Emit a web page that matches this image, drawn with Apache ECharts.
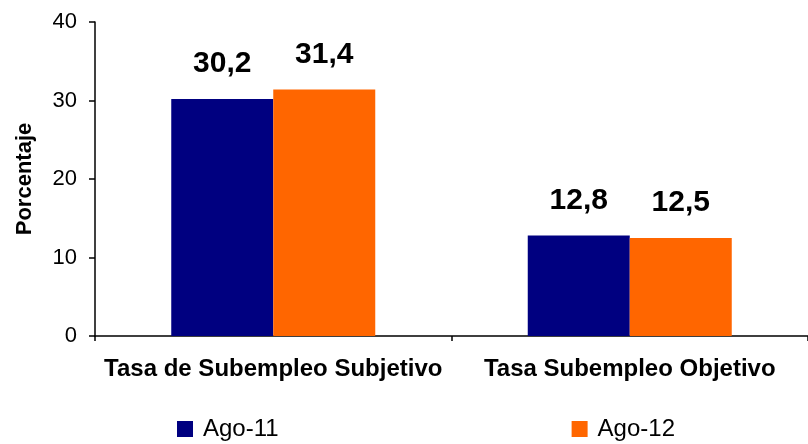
<!DOCTYPE html>
<html>
<head>
<meta charset="utf-8">
<script src="https://cdn.jsdelivr.net/npm/echarts@6/dist/echarts.min.js"></script>
<style>
  html, body { margin: 0; padding: 0; background: #fff; }
  #chart { width: 808px; height: 444px; }
</style>
</head>
<body>
<div id="chart"></div>
<script>
// datos
var categorias = ['Tasa de Subempleo Subjetivo', 'Tasa Subempleo Objetivo'];
var ago11 = [30.2, 12.8];
var ago12 = [31.4, 12.5];
var nombres = ['Ago-11', 'Ago-12'];
var colores = ['#000080', '#FF6600'];

var chart = echarts.init(document.getElementById('chart'));

function etiqueta(p) {
  return String(p.value).replace('.', ',');
}

function serie(nombre, datos, color) {
  return {
    name: nombre,
    type: 'bar',
    data: datos,
    barWidth: 102,
    barGap: 0,
    itemStyle: { color: color },
    label: {
      show: true,
      position: 'top',
      distance: 20,
      formatter: etiqueta,
      color: '#000',
      fontFamily: 'Liberation Sans',
      fontWeight: 'bold',
      fontSize: 30
    },
    animation: false
  };
}

chart.setOption({
  animation: false,
  grid: { left: 95, right: 0, top: 22, bottom: 108 },
  legend: {
    data: nombres,
    left: 177,
    top: 417,
    padding: 0,
    icon: 'rect',
    itemWidth: 16,
    itemHeight: 16,
    itemGap: 293,
    textStyle: {
      fontFamily: 'Liberation Sans',
      fontSize: 24,
      color: '#000',
      padding: [0, 0, 0, 5]
    }
  },
  xAxis: {
    type: 'category',
    data: categorias,
    axisLine: { lineStyle: { color: '#000', width: 1.5 } },
    axisTick: { show: true, length: 5, lineStyle: { color: '#000', width: 1.5 } },
    axisLabel: {
      interval: 0,
      hideOverlap: false,
      margin: 21,
      color: '#000',
      fontFamily: 'Liberation Sans',
      fontWeight: 'bold',
      fontSize: 24
    }
  },
  yAxis: {
    type: 'value',
    min: 0,
    max: 40,
    interval: 10,
    name: 'Porcentaje',
    nameLocation: 'middle',
    nameGap: 59,
    nameTextStyle: {
      color: '#000',
      fontFamily: 'Liberation Sans',
      fontWeight: 'bold',
      fontSize: 22
    },
    axisLine: { show: true, lineStyle: { color: '#000', width: 1.5 } },
    axisTick: { show: true, length: 6, lineStyle: { color: '#000', width: 1.5 } },
    splitLine: { show: false },
    axisLabel: {
      margin: 18,
      color: '#000',
      fontFamily: 'Liberation Sans',
      fontSize: 22
    }
  },
  series: [
    serie(nombres[0], ago11, colores[0]),
    serie(nombres[1], ago12, colores[1])
  ]
});
</script>
</body>
</html>
